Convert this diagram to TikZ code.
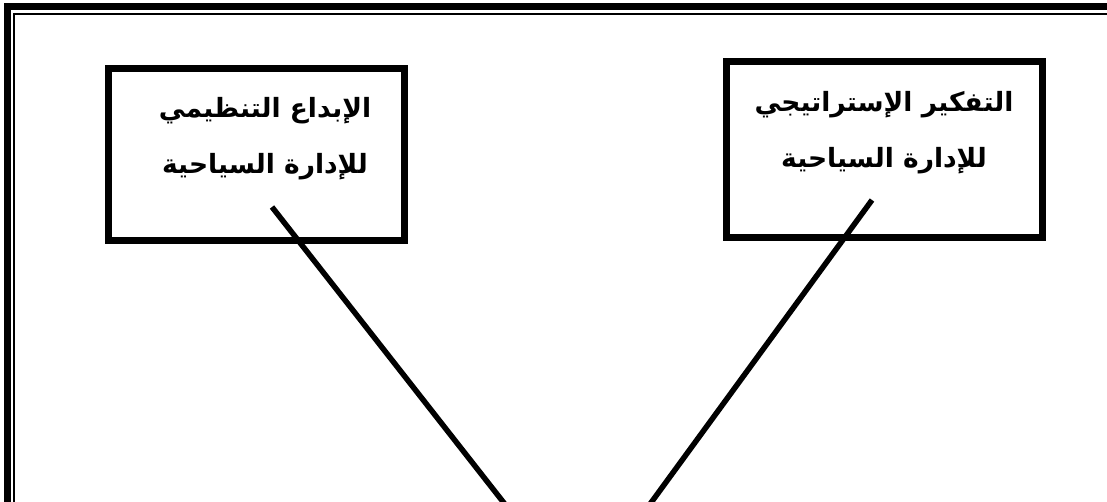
\documentclass[tikz,border=0pt]{standalone}
\usepackage{fontspec}
\TeXXeTstate=1
\newfontfamily\arabicfont[Script=Arabic]{DejaVu Sans}
\begin{document}
\begin{tikzpicture}[x=1pt,y=-1pt,
  boxstyle/.style={draw=black,line width=7pt,rectangle,inner sep=0pt},
  textstyle/.style={font=\arabicfont\bfseries\fontsize{26.5}{56}\selectfont,align=center,inner sep=0pt},
  linkstyle/.style={draw=black,line width=5.5pt}]
\useasboundingbox (0,0) rectangle (1107,501);
\clip (0,0) rectangle (1107,501);
% page frame (thick-thin)
\draw[line width=7pt] (7.5,6.5) rectangle (1200,700);
\draw[line width=2pt] (14,14) rectangle (1200,700);
% boxes
\node[boxstyle,minimum width=296pt,minimum height=172pt] (left) at (256,154) {};
\node[boxstyle,minimum width=316pt,minimum height=176pt] (right) at (884,149) {};
\node[textstyle] (lefttext) at (265,139) {\beginR الإبداع التنظيمي\endR\\\beginR للإدارة السياحية\endR};
\node[textstyle] (righttext) at (884,133) {\beginR التفكير الإستراتيجي\endR\\\beginR للإدارة السياحية\endR};
% connectors
\coordinate (lstart) at (272,207);
\coordinate (rstart) at (872,200);
\coordinate (meet) at (580,600);
\draw[linkstyle] (lstart) -- (meet);
\draw[linkstyle] (rstart) -- (meet);
\end{tikzpicture}
\end{document}
